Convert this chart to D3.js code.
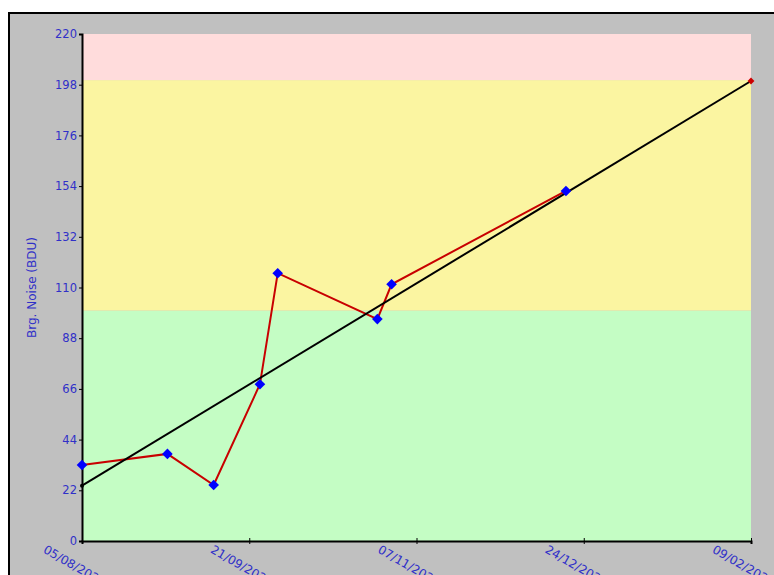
<!DOCTYPE html>
<html>
<head>
<meta charset="utf-8">
<script src="https://cdn.jsdelivr.net/npm/d3@7"></script>
<style>
  html, body { margin: 0; padding: 0; background: #fff; overflow: hidden; }
  text { font-family: "DejaVu Sans", Verdana, sans-serif; }
</style>
</head>
<body>
<svg id="chart" width="774" height="575"></svg>
<script>
// Reading dates and noise values (BDU)
var readDates = ["05/08/2021", "29/08/2021", "11/09/2021", "24/09/2021", "29/09/2021",
                 "27/10/2021", "31/10/2021", "19/12/2021"];
var readValues = [33, 37.8, 24.3, 68, 116.2, 96.3, 111.4, 151.9];

// Trend line (start, projected end)
var trendDates = ["05/08/2021", "09/02/2022"];
var trendValues = [24, 199.6];

// Alarm bands
var bandLows = [0, 100, 200];
var bandHighs = [100, 200, 220];
var bandColors = ["#c4fdc4", "#fbf5a1", "#ffdcdc"];

// Axis ticks
var xTickLabels = ["05/08/2021", "21/09/2021", "07/11/2021", "24/12/2021", "09/02/2022"];
var yTicks = [0, 22, 44, 66, 88, 110, 132, 154, 176, 198, 220];

var parse = d3.timeParse("%d/%m/%Y");

var svg = d3.select("#chart");
var plotLeft = 82, plotRight = 751, plotTop = 34, plotBottom = 541;

// gray panel with black frame
svg.append("rect")
  .attr("x", 9).attr("y", 13)
  .attr("width", 800).attr("height", 600)
  .attr("fill", "#c0c0c0")
  .attr("stroke", "#000")
  .attr("stroke-width", 2);

var x = d3.scaleTime()
  .domain([parse(xTickLabels[0]), parse(xTickLabels[xTickLabels.length - 1])])
  .range([plotLeft, plotRight]);
var y = d3.scaleLinear().domain([0, 220]).range([plotBottom, plotTop]);

// bands
svg.append("g").selectAll("rect")
  .data(bandLows)
  .join("rect")
  .attr("x", plotLeft)
  .attr("width", plotRight - plotLeft)
  .attr("y", (d, i) => y(bandHighs[i]))
  .attr("height", (d, i) => y(d) - y(bandHighs[i]))
  .attr("fill", (d, i) => bandColors[i]);

// y axis
var yAxis = svg.append("g")
  .attr("transform", `translate(${plotLeft},0)`)
  .call(d3.axisLeft(y).tickValues(yTicks).tickSize(3).tickPadding(2));
yAxis.select(".domain").attr("stroke-width", 2);
yAxis.selectAll("text").attr("fill", "#3030c8").style("font-size", "11.5px");

// x axis
var xAxis = svg.append("g")
  .attr("transform", `translate(0,${plotBottom})`)
  .call(d3.axisBottom(x).tickValues(xTickLabels.map(parse)).tickSize(3)
    .tickFormat(d3.timeFormat("%d/%m/%Y")));
xAxis.select(".domain").attr("stroke-width", 2);
xAxis.selectAll(".tick line").attr("y1", -3);
xAxis.selectAll("text")
  .attr("fill", "#3030c8")
  .style("font-size", "12px")
  .attr("text-anchor", "start")
  .attr("x", 0).attr("y", 0).attr("dy", 0)
  .attr("transform", "translate(-40,11) rotate(30)");

// axis title
svg.append("text")
  .attr("transform", `translate(36,${(plotTop + plotBottom) / 2}) rotate(-90)`)
  .attr("text-anchor", "middle")
  .attr("fill", "#3030c8")
  .style("font-size", "12px")
  .text("Brg. Noise (BDU)");

// data line
var line = d3.line().x(d => x(d[0])).y(d => y(d[1]));
var readPts = readDates.map((d, i) => [parse(d), readValues[i]]);
var trendPts = trendDates.map((d, i) => [parse(d), trendValues[i]]);

svg.append("path")
  .datum(readPts)
  .attr("d", line)
  .attr("fill", "none")
  .attr("stroke", "#c80000")
  .attr("stroke-width", 2);

svg.append("path")
  .datum(trendPts)
  .attr("d", line)
  .attr("fill", "none")
  .attr("stroke", "#000")
  .attr("stroke-width", 2);

var diamond = d3.symbol().type(d3.symbolDiamond2).size(72);
svg.append("g").selectAll("path")
  .data(readPts)
  .join("path")
  .attr("d", diamond)
  .attr("transform", d => `translate(${x(d[0])},${y(d[1])})`)
  .attr("fill", "#0000ff");

svg.append("path")
  .attr("d", d3.symbol().type(d3.symbolDiamond2).size(30))
  .attr("transform", `translate(${x(trendPts[1][0])},${y(trendPts[1][1])})`)
  .attr("fill", "#cc0000");
svg.append("circle")
  .attr("cx", x(trendPts[0][0])).attr("cy", y(trendPts[0][1]))
  .attr("r", 2).attr("fill", "#000");
</script>
</body>
</html>
